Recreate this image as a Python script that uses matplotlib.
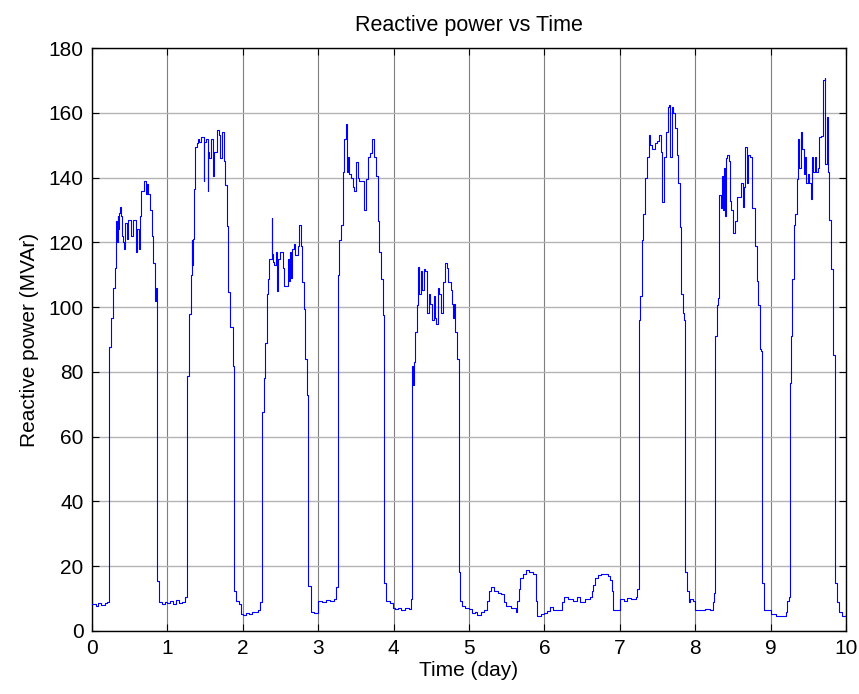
import numpy as np
import matplotlib
matplotlib.use('Agg')
import matplotlib.pyplot as plt

plt.rcParams['font.family'] = ['Liberation Sans', 'DejaVu Sans']

# reactive power samples, one pair of lists per day (time in days, Q in MVAr)
t_day0 = [0.0, 0.05, 0.08, 0.12, 0.17, 0.2, 0.219, 0.254, 0.277, 0.299, 0.321, 0.33, 0.34, 0.35,
          0.36, 0.375, 0.388, 0.40, 0.411, 0.425, 0.44, 0.46, 0.48, 0.50, 0.52, 0.55, 0.58, 0.60,
          0.62, 0.634, 0.656, 0.692, 0.71, 0.73, 0.746, 0.768, 0.799, 0.813, 0.835, 0.845, 0.857,
          0.893, 0.93, 0.97]
q_day0 = [8.2, 7.6, 8.5, 8.0, 8.6, 9.0, 87.6, 96.5, 106, 112, 126.5, 120, 128, 124,
          129, 131, 128, 122, 120, 118, 126, 121, 127, 127, 122, 127, 117, 124,
          118, 128, 136, 139, 135, 138, 135, 130, 122, 113.5, 102, 106, 15.3,
          8.8, 8.4, 9.0]

t_day1 = [1.0, 1.04, 1.08, 1.12, 1.16, 1.2, 1.236, 1.258, 1.289, 1.311, 1.32, 1.33, 1.335, 1.347,
          1.369, 1.391, 1.40, 1.42, 1.444, 1.48, 1.49, 1.511, 1.533, 1.545, 1.556, 1.578, 1.6,
          1.622, 1.653, 1.68, 1.702, 1.724, 1.747, 1.769, 1.791, 1.809, 1.836, 1.867, 1.889,
          1.911, 1.956, 1.98]
q_day1 = [8.5, 9.2, 8.3, 9.5, 8.6, 8.8, 10.6, 78.8, 98, 110, 120.6, 113, 121, 136.5,
          149.4, 150.6, 152, 151, 152.4, 139, 151, 152, 136, 148, 146, 152, 140.6,
          148, 154.7, 153, 146, 154, 145, 137.6, 125, 104.7, 94, 81.8, 12.4,
          9.4, 8.4, 5.3]

t_day2 = [2.0, 2.04, 2.08, 2.12, 2.16, 2.2, 2.233, 2.251, 2.278, 2.295, 2.317, 2.339, 2.352, 2.383,
          2.392, 2.405, 2.419, 2.44, 2.454, 2.471, 2.498, 2.529, 2.551, 2.595, 2.604, 2.615, 2.63,
          2.64, 2.648, 2.674, 2.696, 2.736, 2.749, 2.771, 2.784, 2.806, 2.824, 2.85, 2.868, 2.903,
          2.95]
q_day2 = [5.0, 5.5, 5.2, 6.0, 5.8, 6.5, 9.0, 67.6, 78, 88.8, 104, 108.8, 115, 127.6,
          116.5, 114, 113, 117, 105, 115, 117, 112, 106.5, 106.5, 115, 108, 117,
          109, 118, 119.4, 116, 119, 125.3, 119, 107.6, 99.4, 84, 73, 14, 5.9,
          5.5]

t_day3 = [3.0, 3.05, 3.1, 3.15, 3.212, 3.235, 3.257, 3.279, 3.301, 3.323, 3.345, 3.372, 3.381,
          3.398, 3.415, 3.434, 3.456, 3.478, 3.5, 3.522, 3.544, 3.602, 3.633, 3.664, 3.69, 3.717,
          3.743, 3.765, 3.788, 3.81, 3.832, 3.863, 3.876, 3.898, 3.95, 3.99]
q_day3 = [9.4, 9.0, 9.5, 9.2, 10, 13.5, 110, 120.6, 125.3, 141.8, 151.8, 156.5, 141.8,
          146.5, 141, 140, 137, 135.9, 144.7, 140, 139, 130, 139.4, 146.5, 147.6, 151.8,
          146.5, 140.6, 126.5, 117, 108.8, 97.6, 14.7, 9.4, 8.6, 7.0]

t_day4 = [4.0, 4.02, 4.06, 4.1, 4.15, 4.2, 4.225, 4.247, 4.26, 4.27, 4.286, 4.313, 4.33, 4.339,
          4.357, 4.374, 4.401, 4.423, 4.445, 4.467, 4.489, 4.507, 4.533, 4.551, 4.564, 4.586,
          4.608, 4.63, 4.652, 4.683, 4.709, 4.727, 4.762, 4.775, 4.784, 4.806, 4.819, 4.841,
          4.863, 4.881, 4.903, 4.95]
q_day4 = [7.0, 6.8, 7.2, 6.5, 7.0, 6.8, 10, 81.8, 75.9, 83, 92.4, 100.6, 112.4, 104,
          111, 105.3, 111.8, 111, 98.2, 104, 101, 95.9, 103.5, 96.5, 94.7, 106,
          104, 98.2, 107.6, 113.5, 112, 107.6, 105.3, 101, 96.5, 101, 92.4, 84,
          18.2, 9.4, 7.6, 7.2]

t_day5 = [5.0, 5.044, 5.08, 5.111, 5.156, 5.2, 5.236, 5.267, 5.298, 5.333, 5.378, 5.422, 5.458,
          5.489, 5.556, 5.622, 5.636, 5.658, 5.68, 5.711, 5.756, 5.8, 5.844, 5.889, 5.902, 5.956]
q_day5 = [6.7, 5.5, 6.0, 5.0, 5.8, 6.5, 9.4, 12.4, 13.5, 12.5, 11.8, 11.5, 8.8,
          7.6, 7.0, 5.9, 9.4, 12.9, 16.5, 17.6, 18.8, 18.2, 17.6, 9.4, 4.7, 5.3]

t_day6 = [6.0, 6.031, 6.075, 6.119, 6.186, 6.23, 6.265, 6.319, 6.385, 6.429, 6.473, 6.54, 6.606,
          6.628, 6.65, 6.673, 6.708, 6.752, 6.85, 6.872, 6.894, 6.916, 6.96]
q_day6 = [5.5, 6.2, 7.3, 6.5, 6.5, 8.8, 10.6, 10.0, 9.4, 10.6, 9.0, 10.0, 10.6,
          12.4, 14.1, 16.5, 17.3, 17.6, 17.0, 15.9, 12.4, 6.5, 6.5]

t_day7 = [7.0, 7.057, 7.1, 7.143, 7.209, 7.23, 7.252, 7.274, 7.296, 7.313, 7.339, 7.361, 7.383,
          7.404, 7.426, 7.461, 7.491, 7.522, 7.548, 7.565, 7.591, 7.609, 7.635, 7.652, 7.67,
          7.687, 7.709, 7.73, 7.752, 7.774, 7.796, 7.817, 7.839, 7.852, 7.87, 7.891, 7.913,
          7.935, 7.97]
q_day7 = [9.8, 9.4, 10.2, 9.8, 10.6, 12.9, 96, 103.5, 120.6, 128.8, 140, 146.5, 153,
          150, 148.8, 150.6, 151.2, 153, 148, 132.4, 146.5, 154.1, 161.8, 162.4, 146.5,
          161.8, 160, 155.3, 147.1, 138.2, 124.7, 104.1, 98.2, 96, 18.2, 12.4, 8.8,
          10.0, 9.4]

t_day8 = [8.0, 8.089, 8.133, 8.2, 8.231, 8.249, 8.267, 8.289, 8.302, 8.311, 8.32, 8.338, 8.356,
          8.369, 8.378, 8.391, 8.409, 8.427, 8.444, 8.458, 8.48, 8.502, 8.524, 8.556, 8.587,
          8.613, 8.631, 8.644, 8.667, 8.689, 8.702, 8.733, 8.756, 8.791, 8.813, 8.831, 8.853,
          8.876, 8.889, 8.911, 8.96]
q_day8 = [6.5, 6.5, 6.8, 6.5, 9.0, 11.8, 91.2, 100.6, 102.9, 112.4, 134.7, 130.6, 140.6,
          130, 143, 128.2, 145.9, 147.1, 145, 132.9, 130, 123, 126.5, 134.1, 134.1,
          138.2, 131, 137, 149.4, 138.2, 147, 146.5, 130.6, 118.8, 108.2, 100.6, 87.1,
          86.5, 14.7, 6.5, 6.6]

t_day9 = [9.0, 9.066, 9.154, 9.198, 9.22, 9.242, 9.256, 9.273, 9.286, 9.308, 9.33, 9.352, 9.366,
          9.383, 9.401, 9.419, 9.441, 9.454, 9.471, 9.493, 9.515, 9.533, 9.551, 9.568, 9.586,
          9.604, 9.63, 9.648, 9.674, 9.692, 9.718, 9.727, 9.744, 9.762, 9.78, 9.806, 9.833,
          9.85, 9.859, 9.881, 9.903, 9.947, 10.0]
q_day9 = [5.3, 4.7, 4.7, 5.9, 9.4, 10.6, 76.5, 91.2, 108.8, 125.3, 128.8, 139.4, 151.8,
          143, 154.1, 148.8, 141, 146.5, 138.2, 141.2, 138.2, 133.5, 146.5, 141.8, 146.5,
          141.8, 143, 152.4, 152.9, 170, 170.6, 144.1, 158.8, 141.8, 127, 111.8, 85.3,
          75.3, 14.7, 8.8, 5.9, 4.7, 5.3]

t = np.concatenate([t_day0, t_day1, t_day2, t_day3, t_day4,
                    t_day5, t_day6, t_day7, t_day8, t_day9])
q = np.concatenate([q_day0, q_day1, q_day2, q_day3, q_day4,
                    q_day5, q_day6, q_day7, q_day8, q_day9])

fig = plt.figure(figsize=(8.59, 6.94), dpi=100)
ax = fig.add_axes([92 / 859, 63 / 694, 754 / 859, 583 / 694])

ax.plot(t, q, color='#0000ff', lw=0.8, drawstyle='steps-post', zorder=3)

ax.set_xlim(0, 10)
ax.set_ylim(0, 180)
ax.set_xticks(np.arange(0, 11, 1))
ax.set_yticks(np.arange(0, 181, 20))

ax.xaxis.grid(True, color='#7f7f7f', lw=0.8)
ax.yaxis.grid(True, color='#b4b4b4', lw=1.0)
ax.set_axisbelow(True)

ax.tick_params(direction='in', length=5, width=0.8, top=True, right=True,
               labelsize=15, pad=6)
for s in ax.spines.values():
    s.set_linewidth(1.0)
    s.set_color('black')

ax.set_title('Reactive power vs Time', fontsize=15.5, pad=12)
ax.set_xlabel('Time (day)', fontsize=15, labelpad=2)
ax.set_ylabel('Reactive power (MVAr)', fontsize=15, labelpad=7)

fig.savefig('out.png', dpi=100)
